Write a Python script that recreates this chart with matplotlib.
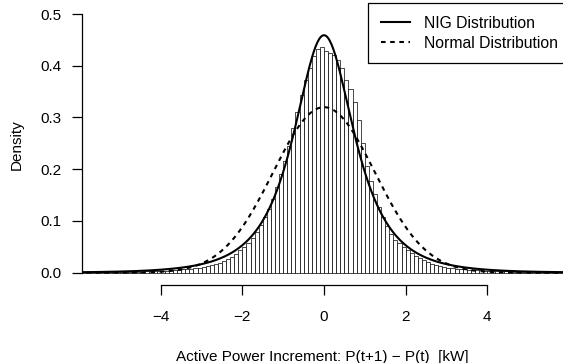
import numpy as np
import matplotlib
matplotlib.use("Agg")
import matplotlib.pyplot as plt

plt.rcParams['font.family'] = ['Liberation Sans', 'DejaVu Sans']

# histogram: left edge of first bin, bin width, density of every bin
BIN_START = -6.0
BIN_WIDTH = 0.1
densities = [
    0.0006, 0.0006, 0.0007, 0.0007, 0.0008, 0.0009, 0.0009, 0.0010, 0.0011, 0.0012,
    0.0013, 0.0015, 0.0016, 0.0018, 0.0020, 0.0022, 0.0025, 0.0027, 0.0030, 0.0033,
    0.0037, 0.0041, 0.0046, 0.0050, 0.0056, 0.0062, 0.0068, 0.0075, 0.0083, 0.0093,
    0.0105, 0.012, 0.014, 0.016, 0.019, 0.023, 0.027, 0.031, 0.037, 0.043,
    0.050, 0.058, 0.068, 0.079, 0.092, 0.107, 0.124, 0.143, 0.165, 0.190,
    0.215, 0.245, 0.280, 0.311, 0.343, 0.372, 0.395, 0.418, 0.432, 0.436,
    0.428, 0.425, 0.420, 0.412, 0.395, 0.372, 0.355, 0.330, 0.296, 0.250,
    0.207, 0.178, 0.152, 0.127, 0.108, 0.090, 0.075, 0.064, 0.057, 0.050,
    0.044, 0.038, 0.033, 0.028, 0.024, 0.020, 0.017, 0.015, 0.013, 0.011,
    0.010, 0.009, 0.008, 0.0075, 0.0068, 0.0060, 0.0054, 0.0049, 0.0044, 0.0040,
    0.0036, 0.0033, 0.0030, 0.0027, 0.0024, 0.0022, 0.0020, 0.0018, 0.0016, 0.0015,
    0.0013, 0.0012, 0.0011, 0.0010, 0.0009, 0.0009, 0.0008, 0.0007, 0.0007, 0.0006,
]

# fitted distributions (parameters)
nig_alpha, nig_beta, nig_delta, nig_mu = 0.65, 0.0, 1.01, 0.0
norm_mu, norm_sd = 0.0, 1.247

xticks = [-4, -2, 0, 2, 4]
yticks = [0.0, 0.1, 0.2, 0.3, 0.4, 0.5]
ytick_labels = ["0.0", "0.1", "0.2", "0.3", "0.4", "0.5"]
legend_labels = ["NIG Distribution", "Normal Distribution"]


def bessel_k1(z):
    # K1(z) = int_0^inf exp(-z cosh t) cosh t dt
    t = np.linspace(0, 12, 4000)
    ch = np.cosh(t)
    vals = np.exp(-np.outer(z, ch)) * ch
    return np.trapezoid(vals, t, axis=1)


def nig_pdf(x, a, b, d, m):
    r = np.sqrt(d ** 2 + (x - m) ** 2)
    g = np.sqrt(a ** 2 - b ** 2)
    return a * d * bessel_k1(a * r) / (np.pi * r) * np.exp(d * g + b * (x - m))


def norm_pdf(x, m, s):
    return np.exp(-0.5 * ((x - m) / s) ** 2) / (s * np.sqrt(2 * np.pi))


fig = plt.figure(figsize=(5.63, 3.63), dpi=100)
ax = fig.add_axes([82 / 563, 78 / 363, 481 / 563, 281.5 / 363])

lefts = BIN_START + BIN_WIDTH * np.arange(len(densities))
ax.bar(lefts, densities, width=BIN_WIDTH, align='edge',
       facecolor='white', edgecolor='black', linewidth=0.5)

xs = np.linspace(-6.5, 6.5, 600)
ax.plot(xs, nig_pdf(xs, nig_alpha, nig_beta, nig_delta, nig_mu),
        color='black', lw=1.5, label=legend_labels[0])
ax.plot(xs, norm_pdf(xs, norm_mu, norm_sd),
        color='black', lw=1.5, ls=(0, (2.2, 2.2)), label=legend_labels[1])

ax.set_xlim(-5.931, 5.858)
ax.set_ylim(-0.0238, 0.5203)

for s in ['top', 'right']:
    ax.spines[s].set_visible(False)
ax.spines['left'].set_bounds(0, 0.5)
ax.spines['bottom'].set_bounds(-4, 4)
ax.spines['left'].set_linewidth(0.9)
ax.spines['bottom'].set_linewidth(0.9)

ax.set_xticks(xticks)
ax.set_xticklabels([f"{v}".replace("-", "\u2212") for v in xticks])
ax.set_yticks(yticks)
ax.set_yticklabels(ytick_labels)
ax.tick_params(length=7, width=0.9, labelsize=11)
ax.tick_params(axis='x', pad=11)
ax.tick_params(axis='y', pad=8)

ax.set_ylabel("Density", fontsize=11, labelpad=12)
ax.set_xlabel("Active Power Increment: P(t+1) \u2212 P(t)  [kW]", fontsize=11, labelpad=19)

leg = ax.legend(loc='upper left', bbox_to_anchor=(368 / 563, 1 - 3 / 363),
                bbox_transform=fig.transFigure, fontsize=11.3, frameon=True,
                fancybox=False, framealpha=1, edgecolor='black',
                handlelength=1.9, handletextpad=0.9, labelspacing=0.32,
                borderpad=0.8, borderaxespad=0)
leg.get_frame().set_linewidth(0.9)

fig.savefig("out.png", dpi=100)
